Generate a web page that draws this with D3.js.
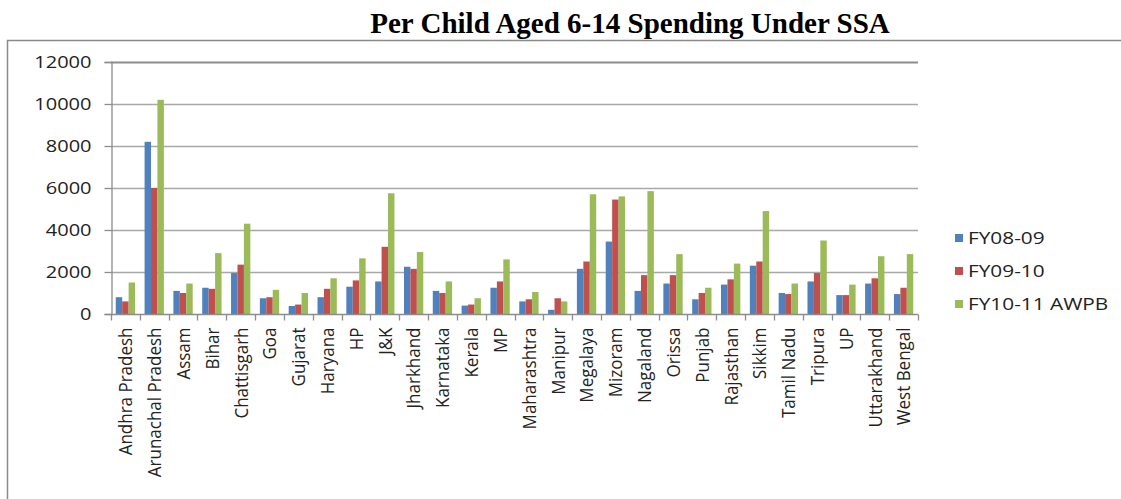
<!DOCTYPE html>
<html>
<head>
<meta charset="utf-8">
<script src="https://cdn.jsdelivr.net/npm/d3@7"></script>
<style>
  html, body { margin: 0; padding: 0; background: #fff; }
  svg { display: block; }
</style>
</head>
<body>
<svg id="chart" width="1121" height="499"></svg>
<script>
const categories = ["Andhra Pradesh","Arunachal Pradesh","Assam","Bihar","Chattisgarh","Goa","Gujarat","Haryana","HP","J&K","Jharkhand","Karnataka","Kerala","MP","Maharashtra","Manipur","Megalaya","Mizoram","Nagaland","Orissa","Punjab","Rajasthan","Sikkim","Tamil Nadu","Tripura","UP","Uttarakhand","West Bengal"];
const seriesNames = ["FY08-09","FY09-10","FY10-11 AWPB"];
const fy0809 = [800,8200,1100,1250,1950,750,380,800,1300,1550,2250,1100,400,1250,600,200,2150,3450,1100,1450,700,1400,2300,1000,1550,900,1450,950];
const fy0910 = [600,6000,1000,1200,2350,800,450,1200,1600,3200,2150,1000,450,1550,700,750,2500,5450,1850,1850,1000,1650,2500,950,1950,900,1700,1250];
const fy1011 = [1500,10200,1450,2900,4300,1150,1000,1700,2650,5750,2950,1550,750,2600,1050,600,5700,5600,5850,2850,1250,2400,4900,1450,3500,1400,2750,2850];
const yTicks = [0,2000,4000,6000,8000,10000,12000];
const colors = ["#4F81BD","#C0504D","#9BBB59"];
const title = "Per Child Aged 6-14 Spending Under SSA";

const seriesValues = [fy0809, fy0910, fy1011];
const svg = d3.select("#chart");

const plot = {left: 111, right: 918, top: 62, bottom: 314};

// Frame
svg.append("rect")
  .attr("x", 7.5).attr("y", 40.5)
  .attr("width", 1300).attr("height", 600)
  .attr("fill", "none").attr("stroke", "#8a8a8a").attr("stroke-width", 1.5);

// Title
svg.append("text")
  .attr("x", 630).attr("y", 33)
  .attr("text-anchor", "middle")
  .attr("font-family", "'Liberation Serif', 'Times New Roman', serif")
  .attr("font-weight", "bold")
  .attr("font-size", "29px")
  .attr("fill", "#000")
  .text(title);

const y = d3.scaleLinear().domain([0, 12000]).range([plot.bottom, plot.top]);
const x0 = d3.scaleBand().domain(categories).range([plot.left, plot.right])
  .paddingInner(0.33).paddingOuter(0.165);
const x1 = d3.scaleBand().domain(seriesNames).range([0, x0.bandwidth()]).padding(0);

// Gridlines
svg.append("g")
  .selectAll("line")
  .data(yTicks.filter(d => d > 0))
  .join("line")
  .attr("x1", plot.left).attr("x2", plot.right)
  .attr("y1", d => Math.round(y(d)) + 0.5).attr("y2", d => Math.round(y(d)) + 0.5)
  .attr("stroke", d => d === 12000 ? "#8c8c8c" : "#a8a8a8")
  .attr("stroke-width", d => d === 12000 ? 2 : 1.3);

// Bars
const groups = svg.append("g")
  .selectAll("g")
  .data(categories)
  .join("g")
  .attr("transform", d => `translate(${x0(d)},0)`);

groups.selectAll("rect")
  .data((c, i) => seriesNames.map((s, k) => ({s, k, v: seriesValues[k][i]})))
  .join("rect")
  .attr("x", d => x1(d.s))
  .attr("y", d => y(d.v))
  .attr("width", x1.bandwidth())
  .attr("height", d => y(0) - y(d.v))
  .attr("fill", d => colors[d.k]);

// Y axis
const yAxis = svg.append("g")
  .attr("transform", `translate(${plot.left + 0.5},0)`)
  .call(d3.axisLeft(y).tickValues(yTicks).tickSize(7).tickFormat(d3.format("d")));
yAxis.select(".domain").attr("stroke", "#8c8c8c").attr("stroke-width", 1.3);
yAxis.selectAll(".tick line").attr("stroke", "#8c8c8c").attr("stroke-width", 1.3);
yAxis.selectAll(".tick text")
  .attr("x", 0).attr("dy", "0.36em")
  .attr("transform", "translate(-20,0) scale(1.25,1)")
  .attr("text-anchor", "end")
  .attr("font-family", "'Open Sans', sans-serif")
  .attr("font-size", "16px")
  .attr("fill", "#222");

// X axis
const xAxis = svg.append("g")
  .attr("transform", `translate(0,${plot.bottom + 0.5})`)
  .call(d3.axisBottom(x0).tickSize(0).tickSizeOuter(0));
xAxis.select(".domain").attr("stroke", "#8c8c8c").attr("stroke-width", 1.3)
  .attr("d", `M${plot.left},0H${plot.right}`);
xAxis.selectAll(".tick text")
  .attr("x", 0).attr("y", 0).attr("dy", "0.36em")
  .attr("text-anchor", "end")
  .attr("transform", "translate(0,13) scale(1.12,1) rotate(-90)")
  .attr("font-family", "'Open Sans', sans-serif")
  .attr("font-size", "17px")
  .attr("fill", "#222");

// Category boundary ticks
const step = x0.step();
const bounds = d3.range(categories.length + 1).map(i => plot.left + i * step);
xAxis.append("g").selectAll("line")
  .data(bounds)
  .join("line")
  .attr("x1", d => Math.round(d) + 0.5).attr("x2", d => Math.round(d) + 0.5)
  .attr("y1", 0).attr("y2", 6)
  .attr("stroke", "#8c8c8c").attr("stroke-width", 1.3);

// Legend
const legend = svg.append("g")
  .selectAll("g")
  .data(seriesNames)
  .join("g")
  .attr("transform", (d, i) => `translate(955,${234 + i * 33})`);
legend.append("rect")
  .attr("width", 8).attr("height", 8)
  .attr("fill", (d, i) => colors[i]);
legend.append("text")
  .attr("transform", "translate(13,4) scale(1.3,1)")
  .attr("dy", "0.36em")
  .attr("font-family", "'Open Sans', sans-serif")
  .attr("font-size", "16px")
  .attr("fill", "#222")
  .text(d => d);
</script>
</body>
</html>
